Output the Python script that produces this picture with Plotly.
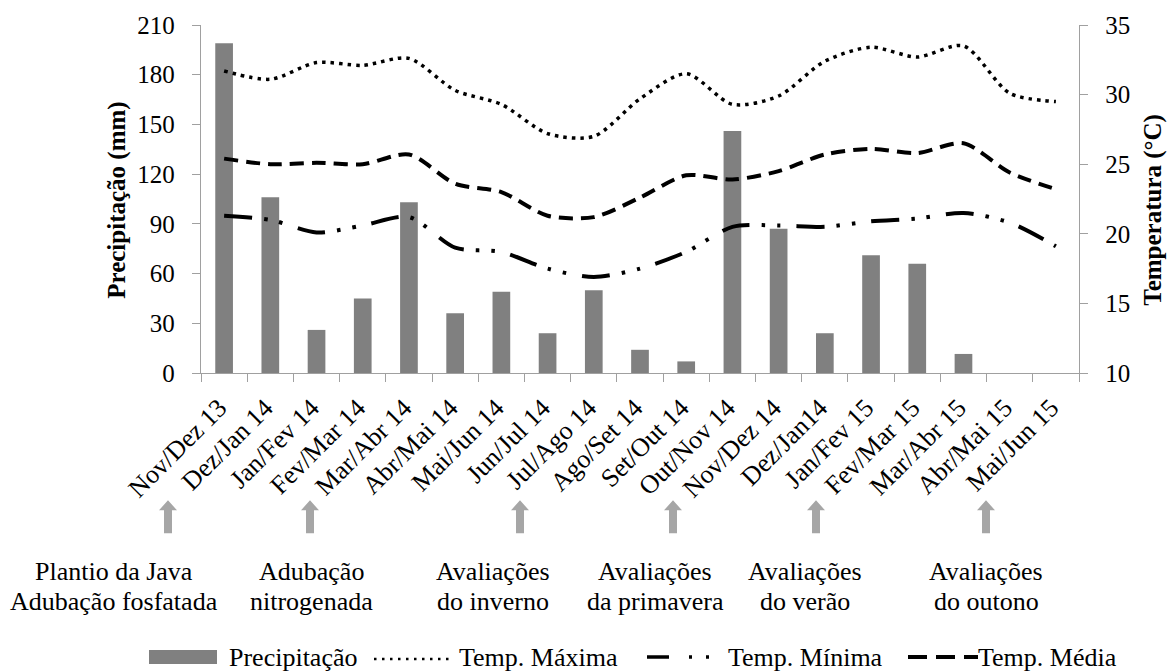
import plotly.graph_objects as go

# Períodos bimestrais (nov/2013 a jun/2015)
periodos = ["Nov/Dez 13", "Dez/Jan 14", "Jan/Fev 14", "Fev/Mar 14", "Mar/Abr 14",
            "Abr/Mai 14", "Mai/Jun 14", "Jun/Jul 14", "Jul/Ago 14", "Ago/Set 14",
            "Set/Out 14", "Out/Nov 14", "Nov/Dez 14", "Dez/Jan14", "Jan/Fev 15",
            "Fev/Mar 15", "Mar/Abr 15", "Abr/Mai 15", "Mai/Jun 15"]

# Precipitação acumulada (mm)
precipitacao = [199, 106, 26, 45, 103, 36, 49, 24, 50, 14, 7, 146, 87, 24, 71, 66, 11.5, 0, 0]

# Temperaturas (°C)
temp_max = [31.7, 31.1, 32.3, 32.1, 32.6, 30.3, 29.3, 27.2, 27.0, 29.7,
            31.5, 29.3, 29.9, 32.4, 33.4, 32.7, 33.5, 30.1, 29.5]
temp_min = [21.3, 21.0, 20.1, 20.6, 21.2, 19.0, 18.7, 17.5, 16.9, 17.5,
            18.7, 20.5, 20.6, 20.5, 20.9, 21.1, 21.5, 20.8, 19.1]
temp_media = [25.4, 25.0, 25.1, 25.0, 25.7, 23.6, 23.0, 21.3, 21.2, 22.6,
              24.2, 23.9, 24.5, 25.7, 26.1, 25.8, 26.5, 24.4, 23.2]

# Marcos do experimento (posição horizontal em px, linhas de texto)
marcos_x = [114, 311, 493, 655, 805, 986]
marcos_texto = [["Plantio da Java", "Adubação fosfatada"],
                ["Adubação", "nitrogenada"],
                ["Avaliações", "do inverno"],
                ["Avaliações", "da primavera"],
                ["Avaliações", "do verão"],
                ["Avaliações", "do outono"]]
setas_x = [168, 310, 520, 673, 816, 986]

W, H = 1168, 672
L, R, T, B = 201, 1079, 25, 373.5
FONT = "Liberation Serif, Times New Roman, Tinos, serif"
AX = "#a0a0a0"
BAR = "#808080"
SETA = "#a6a6a6"

DASH_MAX = "3.5px,5px"
DASH_MIN = "28px,12px,3.5px,12px,3.5px,16px"
DASH_MED = "14px,8px"


def fx(x):
    return (x - L) / (R - L)


def fy(y):
    return (B - y) / (B - T)


fig = go.Figure()
fig.add_trace(go.Bar(x=periodos, y=precipitacao, name="Precipitação",
                     marker=dict(color=BAR, line=dict(width=0)), yaxis="y"))
fig.add_trace(go.Scatter(x=periodos, y=temp_max, name="Temp. Máxima", mode="lines",
                         line=dict(color="black", width=3.5, dash=DASH_MAX,
                                   shape="spline", smoothing=0.8), yaxis="y2"))
fig.add_trace(go.Scatter(x=periodos, y=temp_min, name="Temp. Mínima", mode="lines",
                         line=dict(color="black", width=4, dash=DASH_MIN,
                                   shape="spline", smoothing=0.8), yaxis="y2"))
fig.add_trace(go.Scatter(x=periodos, y=temp_media, name="Temp. Média", mode="lines",
                         line=dict(color="black", width=4, dash=DASH_MED,
                                   shape="spline", smoothing=0.8), yaxis="y2"))

shapes = []
annotations = []

# Setas indicando os marcos
for cx in setas_x:
    tip, base, bottom = 501, 511, 534
    pts = [(cx, tip), (cx + 9, base), (cx + 4, base), (cx + 4, bottom),
           (cx - 4, bottom), (cx - 4, base), (cx - 9, base)]
    path = "M " + " L ".join(f"{fx(a):.5f},{fy(b):.5f}" for a, b in pts) + " Z"
    shapes.append(dict(type="path", xref="paper", yref="paper", path=path,
                       fillcolor=SETA, line=dict(width=0)))

# Textos dos marcos
for cx, linhas in zip(marcos_x, marcos_texto):
    for i, txt in enumerate(linhas):
        annotations.append(dict(x=fx(cx), y=fy(572 + 30 * i), xref="paper", yref="paper",
                                text=txt, showarrow=False, xanchor="center", yanchor="middle",
                                font=dict(family=FONT, size=26, color="black")))

# Títulos dos eixos
annotations.append(dict(x=fx(117), y=fy(201), xref="paper", yref="paper",
                        text="<b>Precipitação (mm)</b>", textangle=-90, showarrow=False,
                        xanchor="center", yanchor="middle",
                        font=dict(family=FONT, size=25, color="black")))
annotations.append(dict(x=fx(1153), y=fy(210), xref="paper", yref="paper",
                        text="<b>Temperatura (°C)</b>", textangle=-90, showarrow=False,
                        xanchor="center", yanchor="middle",
                        font=dict(family=FONT, size=25, color="black")))

# Legenda
LY = 658
shapes.append(dict(type="rect", xref="paper", yref="paper", x0=fx(149), x1=fx(217),
                   y0=fy(LY - 7), y1=fy(LY + 7), fillcolor=BAR, line=dict(width=0)))
shapes.append(dict(type="line", xref="paper", yref="paper", x0=fx(374), x1=fx(453),
                   y0=fy(LY + 2), y1=fy(LY + 2),
                   line=dict(color="black", width=2.5, dash="2.5px,5.5px")))
shapes.append(dict(type="line", xref="paper", yref="paper", x0=fx(647), x1=fx(712),
                   y0=fy(LY), y1=fy(LY), line=dict(color="black", width=3.5,
                                                   dash="22px,20px,3px,14px,3px,20px")))
shapes.append(dict(type="line", xref="paper", yref="paper", x0=fx(908), x1=fx(978),
                   y0=fy(LY), y1=fy(LY), line=dict(color="black", width=4, dash="19px,9px")))
for x0, txt in [(227, "Precipitação"), (457, "Temp. Máxima"),
                (726, "Temp. Mínima"), (976, "Temp. Média")]:
    annotations.append(dict(x=fx(x0), y=fy(LY), xref="paper", yref="paper", text=txt,
                            showarrow=False, xanchor="left", yanchor="middle",
                            font=dict(family=FONT, size=26, color="black")))

fig.update_layout(
    width=W, height=H,
    margin=dict(l=L, r=W - R, t=T, b=H - B, pad=0),
    paper_bgcolor="white", plot_bgcolor="white",
    showlegend=False, bargap=0.617,
    font=dict(family=FONT, size=25, color="black"),
    xaxis=dict(type="category", tickangle=-45, tickson="boundaries", ticks="outside",
               ticklen=8, tickcolor=AX, tickwidth=1.3, showline=True, linecolor=AX,
               linewidth=1.3, showgrid=False, zeroline=False,
               ticklabelstandoff=8, ticklabelshift=-5,
               tickfont=dict(family=FONT, size=26, color="black")),
    yaxis=dict(range=[0, 210], tickvals=list(range(0, 211, 30)), ticks="outside",
               ticklen=8, tickcolor=AX, tickwidth=1.3, showline=True, linecolor=AX,
               linewidth=1.3, showgrid=False, zeroline=False, ticklabelstandoff=12,
               tickfont=dict(family=FONT, size=25, color="black")),
    yaxis2=dict(range=[10, 35], tickvals=list(range(10, 36, 5)), overlaying="y",
                side="right", ticks="outside", ticklen=8, tickcolor=AX, tickwidth=1.3,
                showline=True, linecolor=AX, linewidth=1.3, showgrid=False,
                zeroline=False, ticklabelstandoff=12,
                tickfont=dict(family=FONT, size=25, color="black")),
    shapes=shapes,
    annotations=annotations,
)

fig.write_html("out.html")
